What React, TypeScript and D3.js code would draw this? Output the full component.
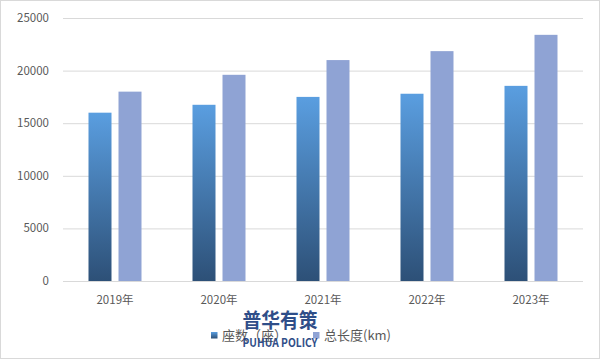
import React from "react";
import * as d3 from "d3";

const categories = ["2019年", "2020年", "2021年", "2022年", "2023年"];
const seriesNames = ["座数（座）", "总长度(km)"];
const countValues = [16000, 16750, 17500, 17800, 18550];
const lengthValues = [18000, 19600, 21000, 21850, 23400];
const yTicks = [0, 5000, 10000, 15000, 20000, 25000];

export default function App() {
  const W = 601, H = 361;
  const left = 63, right = 583, top = 18, bottom = 281;
  const x = d3.scaleBand<string>().domain(categories).range([left, right]);
  const y = d3.scaleLinear().domain([0, 25000]).range([bottom, top]);
  const barW = 23, gap = 7;
  const font = "'Microsoft YaHei', 'Noto Sans CJK SC', 'DejaVu Sans', sans-serif";
  return (
    <svg width={W} height={H} style={{ position: "absolute", left: 0, top: 0 }} fontFamily={font}>
      <defs>
        <linearGradient id="gBlue" x1="0" y1="0" x2="0" y2="1">
          <stop offset="0%" stopColor="#5a9ee0" />
          <stop offset="100%" stopColor="#2d5077" />
        </linearGradient>
      </defs>
      <rect x={0.5} y={0.5} width={W - 2} height={H - 3} fill="#fff" stroke="#d9d9d9" />
      {yTicks.map((t) => (
        <g key={t}>
          <line x1={left} x2={right} y1={y(t) + 0.5} y2={y(t) + 0.5} stroke="#d9d9d9" />
          <text x={49} y={y(t) + 4} textAnchor="end" fontSize={11.5} fill="#595959">{t}</text>
        </g>
      ))}
      {categories.map((c, i) => {
        const cx = (x(c) as number) + x.bandwidth() / 2;
        return (
          <g key={c}>
            <rect x={cx - gap / 2 - barW} y={y(countValues[i])} width={barW} height={bottom - y(countValues[i])} fill="url(#gBlue)" />
            <rect x={cx + gap / 2} y={y(lengthValues[i])} width={barW} height={bottom - y(lengthValues[i])} fill="#8fa3d4" />
            <text x={cx} y={304} textAnchor="middle" fontSize={11.5} fill="#595959">{c}</text>
          </g>
        );
      })}
      <rect x={211} y={332} width={6.5} height={6.5} fill="url(#gBlue)" />
      <text x={222} y={340} fontSize={13} fill="#595959">{seriesNames[0]}</text>
      <rect x={313} y={332} width={6.5} height={6.5} fill="#8fa3d4" />
      <text x={324} y={340} fontSize={13} fill="#595959">{seriesNames[1]}</text>
      <text x={280} y={328} textAnchor="middle" fontSize={20} fontWeight="bold" fill="#1d3f80" opacity={0.92} textLength={75} lengthAdjust="spacingAndGlyphs">普华有策</text>
      <text x={280} y={347} textAnchor="middle" fontSize={12} fontWeight="bold" fill="#1d3f80" opacity={0.92} textLength={75} lengthAdjust="spacingAndGlyphs">PUHUA POLICY</text>
    </svg>
  );
}
